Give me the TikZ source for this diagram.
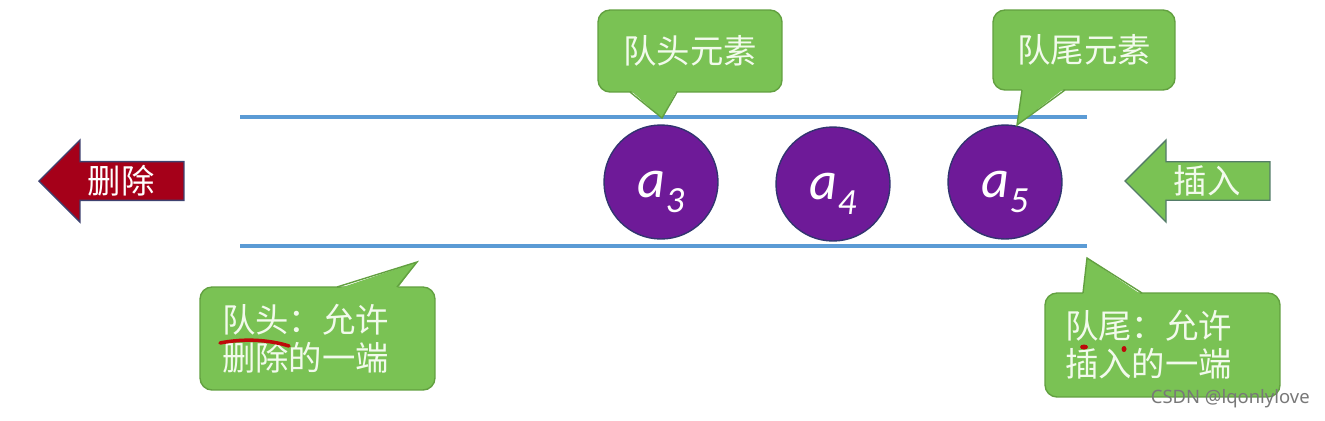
\documentclass[tikz,border=0pt]{standalone}
\usepackage{fontspec}
\setmainfont{Noto Sans CJK SC}
\newfontfamily\cjkfont{Noto Sans CJK SC}
\newfontfamily\elemfont{Carlito}
\newfontfamily\markfont{Noto Sans}
\usetikzlibrary{shapes.arrows}
\definecolor{callgreen}{RGB}{122,194,84}
\definecolor{callborder}{RGB}{98,160,64}
\definecolor{bubbletext}{RGB}{242,250,236}
\definecolor{qblue}{RGB}{91,155,213}
\definecolor{elempurple}{RGB}{110,26,152}
\definecolor{elemborder}{RGB}{50,52,112}
\definecolor{delred}{RGB}{165,0,25}
\definecolor{delborder}{RGB}{62,66,112}
\definecolor{insborder}{RGB}{84,124,104}
\definecolor{inkred}{RGB}{190,10,10}
\definecolor{markgray}{RGB}{120,120,120}
\newcommand\elemlab[1]{{\elemfont\itshape\fontsize{31}{31}\selectfont a\raisebox{-0.28em}{\fontsize{21}{21}\selectfont #1}}}
\begin{document}
\begin{tikzpicture}[x=0.02cm,y=-0.02cm,
  bubble/.style={draw=callborder,fill=callgreen,rounded corners=0.24cm,line width=0.8pt,
    text=bubbletext,font=\cjkfont\fontsize{19}{21.6}\selectfont},
  pointer/.style={draw=callborder,line width=0.8pt,line join=miter},
  elem/.style={circle,draw=elemborder,fill=elempurple,line width=0.8pt,
    minimum size=2.28cm,inner sep=0pt,text={rgb,255:red,246;green,232;blue,250}},
  wall/.style={draw=qblue,line width=2.8pt},
  bigarrow/.style={single arrow,shape border rotate=180,minimum height=2.9cm,
    minimum width=1.64cm,single arrow head extend=0.42cm,single arrow head indent=0pt,
    inner sep=0.05cm,line width=0.8pt,font=\cjkfont\fontsize{19}{21.6}\selectfont}]
  \fill[white] (0,0) rectangle (1325,420);
  % queue walls
  \draw[wall] (240,117) -- (1087,117);
  \draw[wall] (240,246) -- (1087,246);
  % elements
  \node[elem] (a3) at (661,182) {};
  \node[elem] (a4) at (833,184) {};
  \node[elem] (a5) at (1005,182) {};
  \node[text=white,inner sep=0pt] (a3lab) at (661,192) {\elemlab{3}};
  \node[text=white,inner sep=0pt] (a4lab) at (833,194) {\elemlab{4}};
  \node[text=white,inner sep=0pt] (a5lab) at (1005,192) {\elemlab{5}};
  % delete and insert arrows
  \node[bigarrow,draw=delborder,fill=delred,text=white,anchor=tip] (del) at (38,181) {删除};
  \node[bigarrow,draw=insborder,fill=callgreen,text=bubbletext,anchor=tip] (ins) at (1124,181) {插入};
  % callouts on top
  \node[bubble,minimum width=3.68cm,minimum height=1.64cm] (headelem) at (690,51) {队头元素};
  \coordinate (headtip) at (662,118);
  \fill[callgreen] (630,90) -- (headtip) -- (677,90) -- cycle;
  \draw[pointer] (630,92) -- (headtip) -- (677,92);
  \node[bubble,minimum width=3.64cm,minimum height=1.6cm] (tailelem) at (1084,50) {队尾元素};
  \coordinate (tailtip) at (1017,125);
  \fill[callgreen] (1022,88) -- (tailtip) -- (1065,88) -- cycle;
  \draw[pointer] (1022,90) -- (tailtip) -- (1065,90);
  % callouts below
  \node[bubble,minimum width=4.7cm,minimum height=2.06cm,text width=3.82cm,align=left] (headend) at (317.5,338.5) {队头：允许\\删除的一端};
  \coordinate (headendtip) at (417,262);
  \fill[callgreen] (337,289) -- (headendtip) -- (397,289) -- cycle;
  \draw[pointer] (337,287) -- (headendtip) -- (397,287);
  \node[bubble,minimum width=4.7cm,minimum height=2.08cm,text width=3.9cm,align=left] (tailend) at (1162.5,345) {队尾：允许\\插入的一端};
  \coordinate (tailendtip) at (1087,258);
  \fill[callgreen] (1083,295) -- (tailendtip) -- (1142,295) -- cycle;
  \draw[pointer] (1083,293) -- (tailendtip) -- (1142,293);
  % red ink marks
  \draw[inkred,line width=2pt,line cap=round] (220,343) .. controls (245,338) and (270,340) .. (289,346);
  \fill[inkred] (1084,347) ellipse (4 and 2.5);
  \fill[inkred] (1124,349) ellipse (2.5 and 3);
  % watermark
  \node[anchor=east,text=markgray,font=\markfont\fontsize{10.5}{12}\selectfont,inner sep=0pt] (mark) at (1310,399) {CSDN @lqonlylove};
\end{tikzpicture}
\end{document}
